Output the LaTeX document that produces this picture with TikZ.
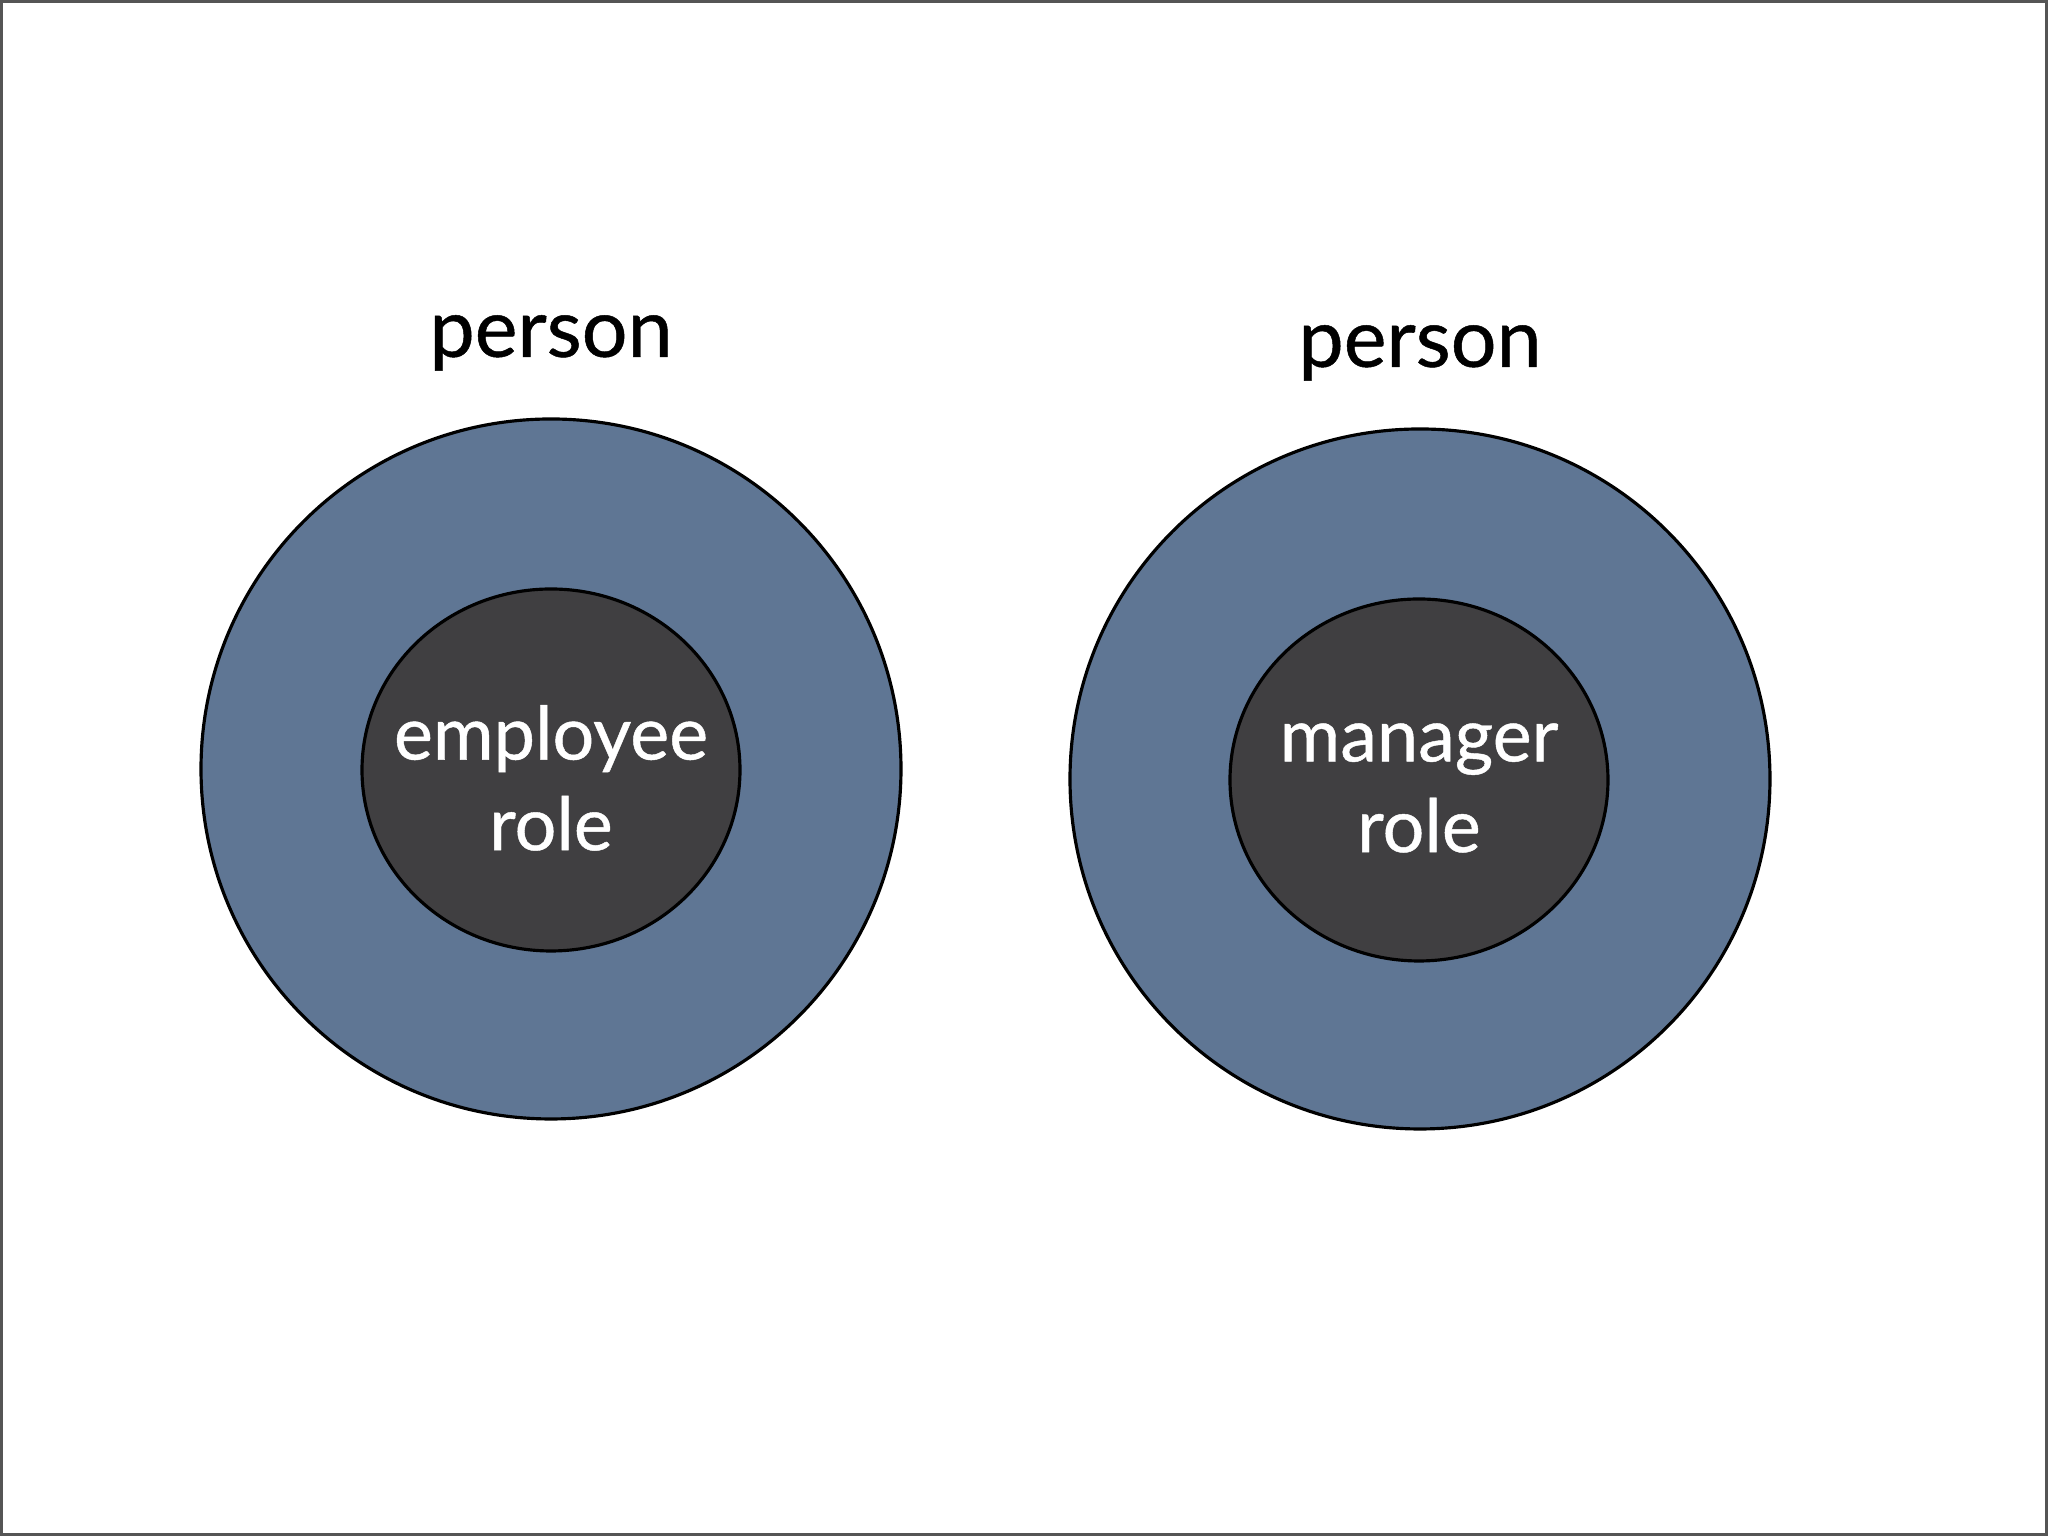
\documentclass[tikz,border=0pt]{standalone}
\usepackage{fontspec}
\setmainfont{Lato}[FakeBold=0.6]
\usepackage{tikz}
\usetikzlibrary{shapes.geometric}
\usetikzlibrary{positioning}
\definecolor{personblue}{RGB}{95,118,148}
\definecolor{roledark}{RGB}{64,63,65}
\definecolor{framegray}{RGB}{85,85,85}
\tikzstyle{person} = [circle, minimum size=7cm, inner sep=0pt, draw=black, line width=0.9pt, fill=personblue]
\tikzstyle{role} = [ellipse, minimum width=3.78cm, minimum height=3.62cm, inner sep=0pt, draw=black, line width=0.9pt, fill=roledark]
\tikzstyle{roletext} = [inner sep=0pt, text=white, align=center, font=\fontsize{21}{25.8}\selectfont]
\tikzstyle{label} = [inner sep=0pt, text=black, font=\fontsize{23}{27}\selectfont]

\begin{document}
\begin{tikzpicture}

\useasboundingbox (0,0) rectangle (20.48,15.36);
\fill [white] (0,0) rectangle (20.48,15.36);
\draw [framegray, line width=0.03cm] (0.015,0.015) rectangle (20.465,15.345);

\node (outer1) [person] at (5.51,7.67) {};
\node (inner1) [role] at (5.51,7.66) {};
\node (txt1) [roletext, yshift=-0.08cm] at (inner1) {employee\\role};
\node (lab1) [label, above=0.46cm of outer1] {person};

\node (outer2) [person] at (14.20,7.57) {};
\node (inner2) [role] at (14.19,7.56) {};
\node (txt2) [roletext, yshift=-0.08cm] at (inner2) {manager\\role};
\node (lab2) [label, above=0.46cm of outer2] {person};

\end{tikzpicture}
\end{document}
